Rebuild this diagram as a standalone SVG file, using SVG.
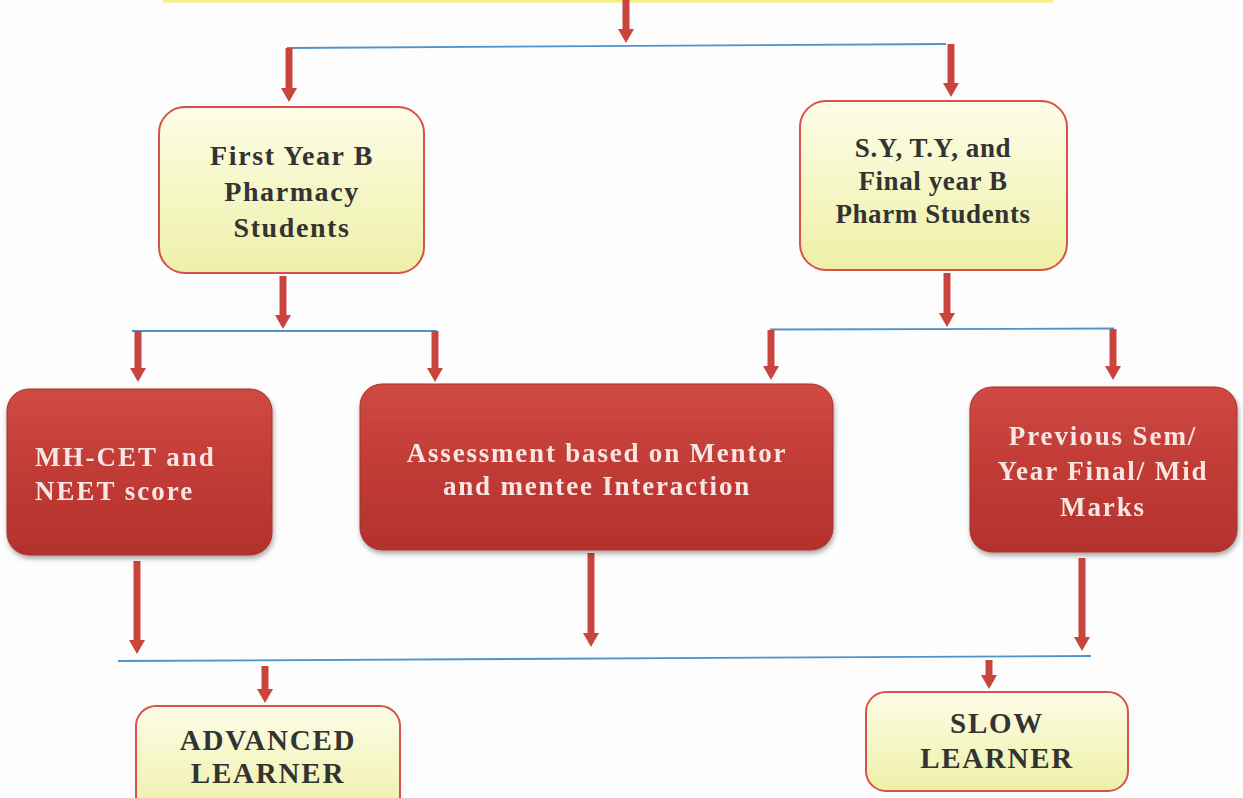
<svg xmlns="http://www.w3.org/2000/svg" width="1243" height="798" viewBox="0 0 1243 798">
<defs>
  <linearGradient id="yel" x1="0" y1="0" x2="0" y2="1">
    <stop offset="0" stop-color="#fdfde8"/>
    <stop offset="1" stop-color="#eef0a6"/>
  </linearGradient>
  <linearGradient id="red" x1="0" y1="0" x2="0" y2="1">
    <stop offset="0" stop-color="#cf4a43"/>
    <stop offset="0.5" stop-color="#c13b36"/>
    <stop offset="1" stop-color="#b3322e"/>
  </linearGradient>
  <filter id="sh" x="-10%" y="-10%" width="125%" height="130%">
    <feGaussianBlur in="SourceAlpha" stdDeviation="2.5"/>
    <feOffset dx="1" dy="3" result="b"/>
    <feFlood flood-color="#000" flood-opacity="0.35"/>
    <feComposite in2="b" operator="in"/>
    <feMerge><feMergeNode/><feMergeNode in="SourceGraphic"/></feMerge>
  </filter>
  <marker id="ah" viewBox="0 0 14 16" markerWidth="14" markerHeight="16" refX="1" refY="8" orient="auto" markerUnits="userSpaceOnUse">
    <path d="M0,0 L14,8 L0,16 z" fill="#c8443d"/>
  </marker>
  <style>
    .yb{fill:url(#yel);stroke:#d9514b;stroke-width:2}
    .rb{fill:url(#red);stroke:#a8302c;stroke-width:1}
    .yt{font-family:"Liberation Serif","Times New Roman",serif;font-weight:bold;fill:#333;text-anchor:middle}
    .rt{font-family:"Liberation Serif","Times New Roman",serif;font-weight:bold;fill:#f7e6e1;text-anchor:middle}
    .ar{stroke:#c8443d;stroke-width:7;fill:none;marker-end:url(#ah)}
    .bl{stroke:#4f93c9;stroke-width:1.8;fill:none}
  </style>
</defs>
<rect width="1243" height="798" fill="#fdfdfd"/>
<rect x="163" y="-20" width="890" height="22.5" fill="#f4ee7a"/>

<g id="connectors">
  <line class="ar" x1="626" y1="0" x2="626" y2="30"/>
  <line class="bl" x1="287" y1="48" x2="946" y2="44"/>
  <line class="ar" x1="289" y1="48" x2="289" y2="89"/>
  <line class="ar" x1="951" y1="44" x2="951" y2="84"/>

  <line class="ar" x1="283" y1="276" x2="283" y2="316"/>
  <line class="bl" x1="132" y1="331" x2="437" y2="331"/>
  <line class="ar" x1="138" y1="331" x2="138" y2="369"/>
  <line class="ar" x1="435" y1="331" x2="435" y2="369"/>

  <line class="ar" x1="947" y1="273" x2="947" y2="314"/>
  <line class="bl" x1="770" y1="329.5" x2="1114" y2="328.5"/>
  <line class="ar" x1="771" y1="330" x2="771" y2="367"/>
  <line class="ar" x1="1113" y1="329" x2="1113" y2="367"/>

  <line class="ar" x1="137" y1="561" x2="137" y2="641"/>
  <line class="ar" x1="591" y1="553" x2="591" y2="634"/>
  <line class="ar" x1="1082" y1="558" x2="1082" y2="638"/>
  <line class="bl" x1="118" y1="661" x2="1091" y2="656"/>

  <line class="ar" x1="265" y1="666" x2="265" y2="690"/>
  <line class="ar" x1="989" y1="660" x2="989" y2="676"/>
</g>

<g id="first-year">
  <rect class="yb" x="159" y="107" width="265" height="166" rx="26"/>
  <text class="yt" font-size="28" letter-spacing="1.6"><tspan x="292" y="165">First Year B</tspan><tspan x="292" y="201">Pharmacy</tspan><tspan x="292" y="237">Students</tspan></text>
</g>

<g id="sy-ty-final">
  <rect class="yb" x="800" y="101" width="267" height="169" rx="26"/>
  <text class="yt" font-size="27" letter-spacing="0.6"><tspan x="933" y="157">S.Y, T.Y, and</tspan><tspan x="933" y="190">Final year B</tspan><tspan x="933" y="223">Pharm Students</tspan></text>
</g>

<g id="mhcet" filter="url(#sh)">
  <rect class="rb" x="7" y="389" width="265" height="166" rx="22"/>
  <text class="rt" font-size="27" letter-spacing="2" style="text-anchor:start"><tspan x="35" y="466">MH-CET and</tspan><tspan x="35" y="500">NEET score</tspan></text>
</g>

<g id="assessment" filter="url(#sh)">
  <rect class="rb" x="360" y="384" width="473" height="166" rx="22"/>
  <text class="rt" font-size="27" letter-spacing="1.8"><tspan x="597" y="462">Assessment based on Mentor</tspan><tspan x="597" y="495">and mentee Interaction</tspan></text>
</g>

<g id="previous" filter="url(#sh)">
  <rect class="rb" x="970" y="387" width="267" height="165" rx="22"/>
  <text class="rt" font-size="27" letter-spacing="1.9"><tspan x="1103" y="445">Previous Sem/</tspan><tspan x="1103" y="480">Year Final/ Mid</tspan><tspan x="1103" y="516">Marks</tspan></text>
</g>

<g id="advanced">
  <rect class="yb" x="136" y="706" width="264" height="110" rx="20"/>
  <text class="yt" font-size="29" letter-spacing="1.8"><tspan x="268" y="750">ADVANCED</tspan><tspan x="268" y="783">LEARNER</tspan></text>
</g>

<g id="slow">
  <rect class="yb" x="866" y="692" width="262" height="99" rx="20"/>
  <text class="yt" font-size="29" letter-spacing="1.7"><tspan x="997" y="733">SLOW</tspan><tspan x="997" y="768">LEARNER</tspan></text>
</g>
</svg>
